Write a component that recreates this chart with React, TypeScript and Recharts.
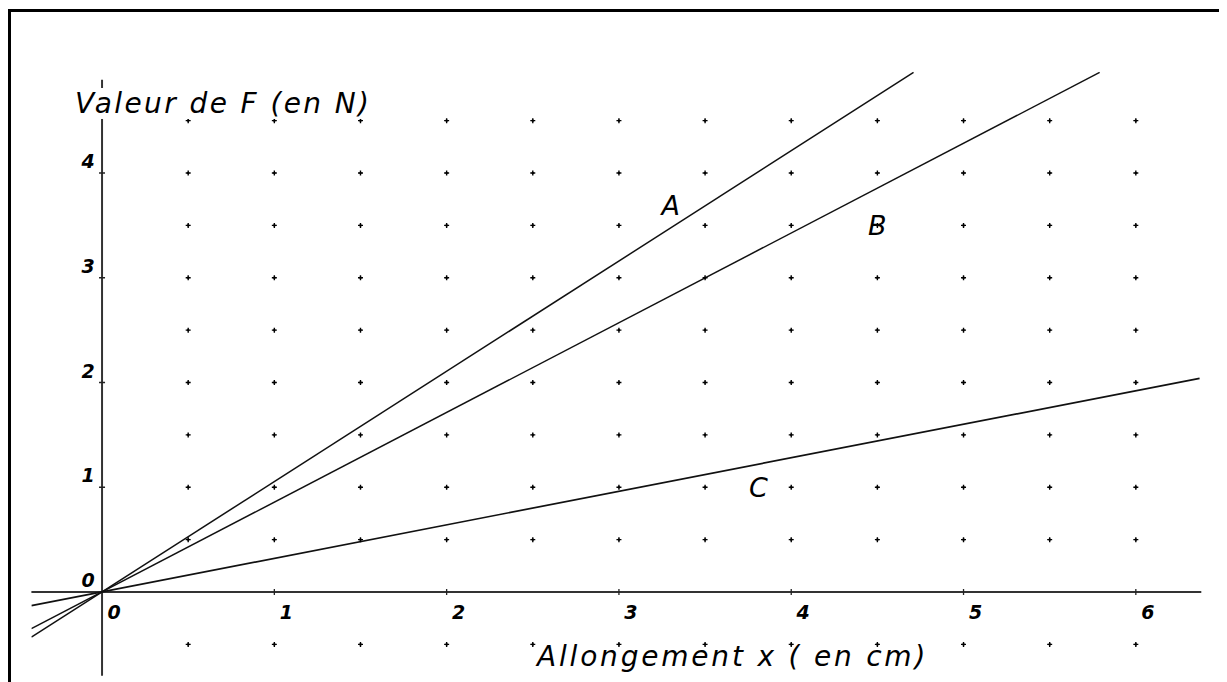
import React from 'react';
import { ComposedChart, Line, Scatter, XAxis, YAxis, ReferenceLine } from 'recharts';

// grid of dots (x and y positions, in cm / N)
const dotXs = [0.5, 1, 1.5, 2, 2.5, 3, 3.5, 4, 4.5, 5, 5.5, 6];
const dotYs = [-0.5, 0.5, 1, 1.5, 2, 2.5, 3, 3.5, 4, 4.5];

// axis ticks
const xTicks = [0, 1, 2, 3, 4, 5, 6];
const yTicks = [0, 1, 2, 3, 4];

// the three springs (start and end of each line)
const lineA = [
  { x: -0.41, y: -0.43 },
  { x: 4.71, y: 4.96 },
];
const lineB = [
  { x: -0.41, y: -0.35 },
  { x: 5.79, y: 4.96 },
];
const lineC = [
  { x: -0.41, y: -0.13 },
  { x: 6.37, y: 2.04 },
];

// letters next to the lines
const curveLabels = [
  { x: 3.3, y: 3.6, text: 'A' },
  { x: 4.5, y: 3.41, text: 'B' },
  { x: 3.81, y: 0.91, text: 'C' },
];

const X_DOMAIN: [number, number] = [-0.41, 6.38];
const Y_DOMAIN: [number, number] = [-0.8, 4.97];

const FONT = '"DejaVu Sans", Verdana, sans-serif';

const dots = dotYs.flatMap(y => dotXs.map(x => ({ x, y })));
const xTickData = xTicks.map(x => ({ x, y: 0 }));
const yTickData = yTicks.map(y => ({ x: 0, y }));

const yTitle = [{ x: -0.157, y: 4.573, text: 'Valeur de F (en N)' }];
const xTitle = [{ x: 2.525, y: -0.706, text: 'Allongement x ( en cm)' }];

const DotShape = (p: any) => (
  <g>
    <path
      d={`M${p.cx - 2.5},${p.cy}h5M${p.cx},${p.cy - 2.5}v5`}
      stroke="#000"
      strokeWidth={1.4}
    />
    <rect x={p.cx - 1} y={p.cy - 1} width={2} height={2} fill="#000" />
  </g>
);

const XTickShape = (p: any) => (
  <g>
    {p.payload.x !== 0 && (
      <line x1={p.cx} x2={p.cx} y1={p.cy - 3} y2={p.cy + 3} stroke="#222" strokeWidth={1.3} />
    )}
    <text
      x={p.cx + 12}
      y={p.cy + 27}
      textAnchor="middle"
      fontFamily={FONT}
      fontSize={19}
      fontWeight="bold"
      fontStyle="italic"
      fill="#000"
    >
      {p.payload.x}
    </text>
  </g>
);

const YTickShape = (p: any) => (
  <g>
    {p.payload.y !== 0 && (
      <line x1={p.cx - 3} x2={p.cx + 3} y1={p.cy} y2={p.cy} stroke="#222" strokeWidth={1.3} />
    )}
    <text
      x={p.cx - 14}
      y={p.cy - 5}
      textAnchor="middle"
      fontFamily={FONT}
      fontSize={19}
      fontWeight="bold"
      fontStyle="italic"
      fill="#000"
    >
      {p.payload.y}
    </text>
  </g>
);

const LetterShape = (p: any) => (
  <text
    x={p.cx}
    y={p.cy}
    textAnchor="middle"
    fontFamily={FONT}
    fontSize={27}
    fontStyle="italic"
    fill="#000"
  >
    {p.payload.text}
  </text>
);

const YTitleShape = (p: any) => (
  <g>
    <rect x={p.cx - 3} y={p.cy - 25} width={300} height={31} fill="#fff" />
    <text
      x={p.cx}
      y={p.cy}
      fontFamily={FONT}
      fontSize={28}
      fontStyle="italic"
      letterSpacing={2.4}
      fill="#000"
    >
      {p.payload.text}
    </text>
  </g>
);

const XTitleShape = (p: any) => (
  <text
    x={p.cx}
    y={p.cy}
    fontFamily={FONT}
    fontSize={28}
    fontStyle="italic"
    letterSpacing={2.8}
    fill="#000"
  >
    {p.payload.text}
  </text>
);

export default function App() {
  return (
    <div style={{ position: 'relative', width: 1219, height: 674, background: '#fff' }}>
      <div
        style={{
          position: 'absolute',
          left: 0,
          top: 1,
          right: 0,
          bottom: 0,
          borderLeft: '3px solid #000',
          borderTop: '3px solid #000',
        }}
      />
      <div style={{ position: 'absolute', left: 0, top: 0 }}>
        <ComposedChart
          width={1219}
          height={674}
          margin={{ top: 63.4, right: 25.7, bottom: 6.2, left: 23.4 }}
        >
          <XAxis type="number" dataKey="x" domain={X_DOMAIN} allowDataOverflow hide />
          <YAxis type="number" dataKey="y" domain={Y_DOMAIN} allowDataOverflow hide />

          <Scatter data={dots} shape={DotShape} isAnimationActive={false} />

          <ReferenceLine y={0} stroke="#333" strokeWidth={2} />
          <ReferenceLine
            segment={[{ x: 0, y: -0.8 }, { x: 0, y: 4.89 }]}
            stroke="#333"
            strokeWidth={2}
          />

          <Line data={lineA} dataKey="y" stroke="#111" strokeWidth={1.5} dot={false} isAnimationActive={false} />
          <Line data={lineB} dataKey="y" stroke="#111" strokeWidth={1.5} dot={false} isAnimationActive={false} />
          <Line data={lineC} dataKey="y" stroke="#111" strokeWidth={1.7} dot={false} isAnimationActive={false} />

          <Scatter data={xTickData} shape={XTickShape} isAnimationActive={false} />
          <Scatter data={yTickData} shape={YTickShape} isAnimationActive={false} />
          <Scatter data={curveLabels} shape={LetterShape} isAnimationActive={false} />
          <Scatter data={yTitle} shape={YTitleShape} isAnimationActive={false} />
          <Scatter data={xTitle} shape={XTitleShape} isAnimationActive={false} />
        </ComposedChart>
      </div>
    </div>
  );
}
